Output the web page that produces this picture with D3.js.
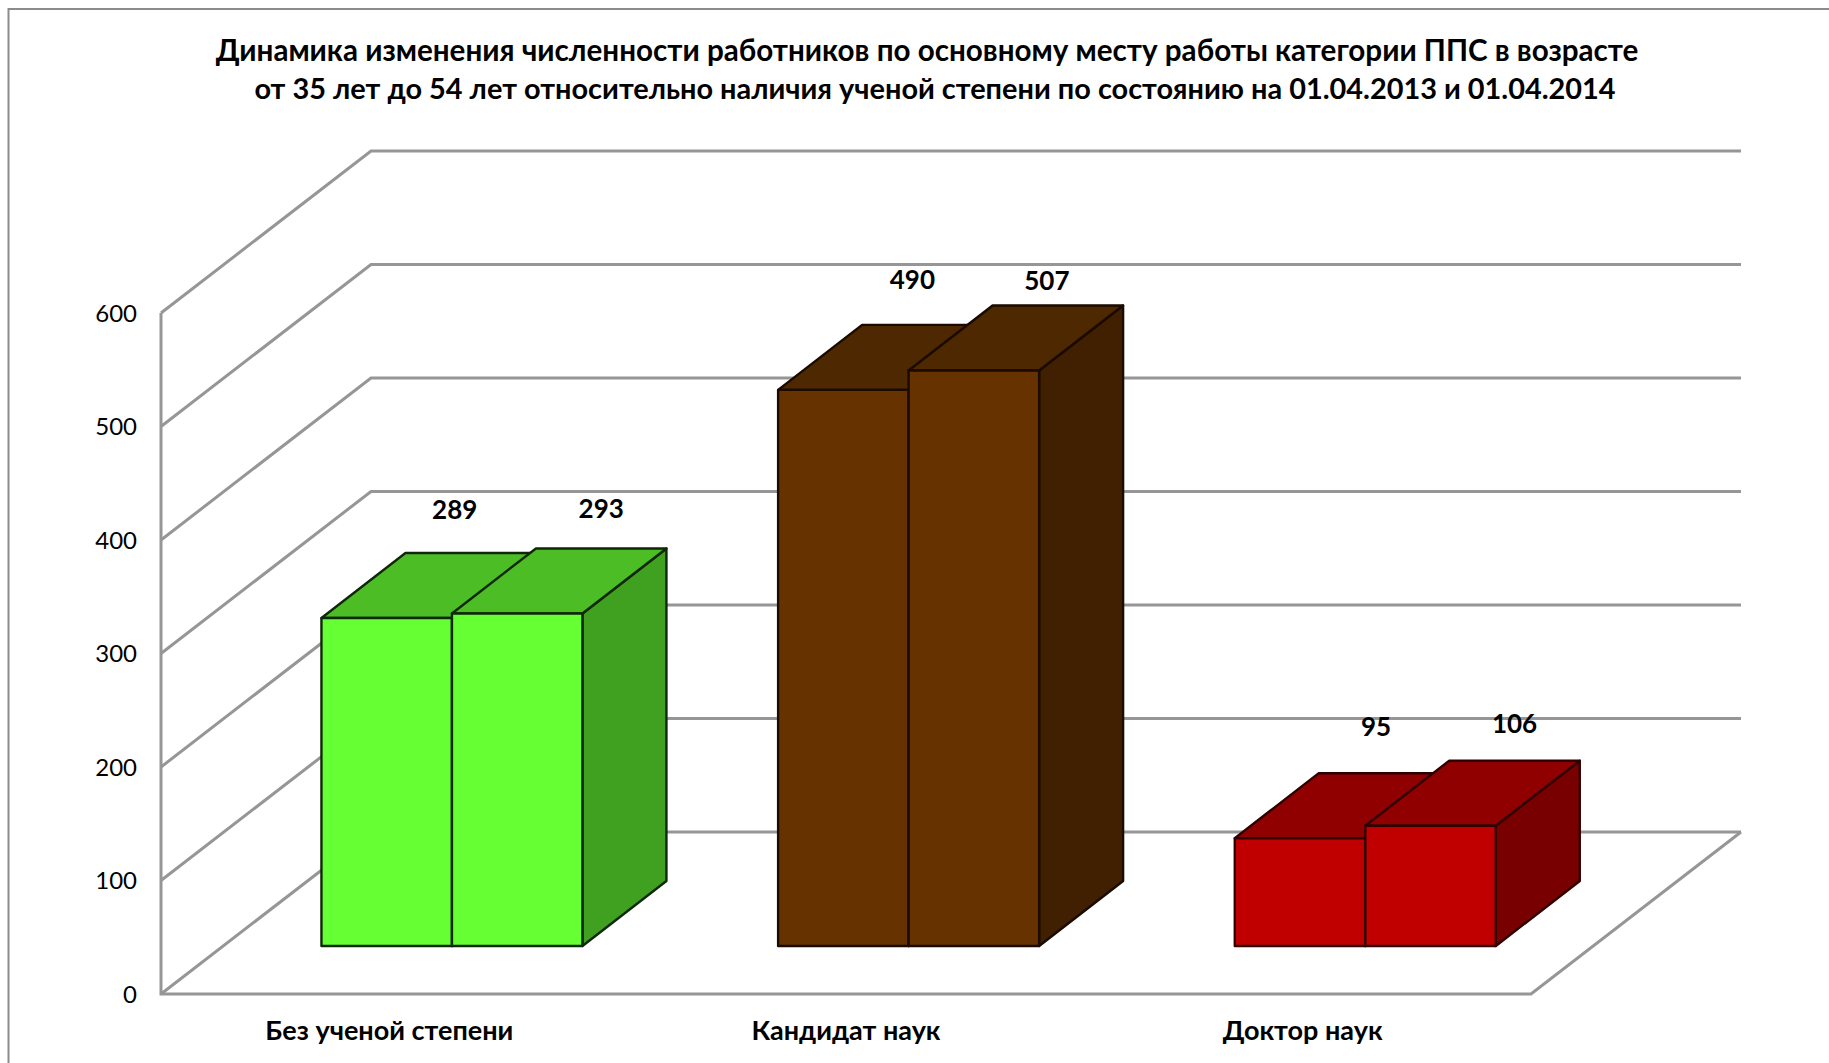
<!DOCTYPE html>
<html><head><meta charset="utf-8">
<script src="https://cdn.jsdelivr.net/npm/d3@7"></script>
<style>html,body{margin:0;padding:0;background:#fff;overflow:hidden}svg{display:block}
text{font-family:Lato,"Open Sans","Noto Sans",sans-serif;fill:#000}</style></head>
<body><script>
const categories = ["Без ученой степени","Кандидат наук","Доктор наук"];
const series = ["01.04.2013","01.04.2014"];
const values2013 = [289,490,95];
const values2014 = [293,507,106];
const yTicks = [0,100,200,300,400,500,600];
const titleLines = ["Динамика изменения численности работников по основному месту работы категории ППС в возрасте",
 "от 35 лет до 54 лет относительно наличия ученой степени по состоянию на 01.04.2013 и 01.04.2014"];
const frontColors = ["#66FF33","#663300","#C00000"];
const topColors = ["#4DBD26","#4D2800","#900000"];
const sideColors = ["#40A01F","#402000","#780000"];
const edgeColors = ["#10280A","#1A0A00","#300000"];
// manual label nudges of the original chart (px from bar's front-top-centre)
const labelDx = [[68,84],[69,73],[76,84]];
const labelDy = [[-108,-104],[-110,-90],[-111,-102]];

const W=1829,H=1063;
const svg=d3.select("body").append("svg").attr("width",W).attr("height",H);
// chart frame: only the left and top edges are inside the picture
svg.append("path").attr("d",d3.line()([[8.5,H],[8.5,9],[W,9]])).attr("fill","none")
  .attr("stroke","#8c8c8c").attr("stroke-width",2);

const xL=161,xR=1531,yB=994,yT=313;
const depthX=210,depthY=-162;
const y=d3.scaleLinear().domain([0,600]).range([yB,yT]);
const xAxisScale=d3.scaleBand().domain(categories).range([xL,xR]);
const grid="#969696";

// walls
const g=svg.append("g").attr("fill","none").attr("stroke",grid).attr("stroke-width",3).attr("stroke-linejoin","miter");
g.selectAll("path.grid").data(yTicks).join("path").attr("class","grid")
 .attr("d",d=>d3.line()([[xL,y(d)],[xL+depthX,y(d)+depthY],[xR+depthX,y(d)+depthY]]));
g.append("path").attr("d",d3.line()([[xL,y(600)],[xL,y(0)],[xR,y(0)],[xR+depthX,y(0)+depthY]]));

// bars
const floorFrac=48/161;
const groupX=d3.scaleBand().domain(categories).range([xL,xR]).paddingInner(0.4285).paddingOuter(0.21425);
const subX=d3.scaleBand().domain(series).range([0,groupX.bandwidth()]);
const floorY=yB-48;
const bx=84,by=-65;
const rows=categories.map((c,i)=>[values2013[i],values2014[i]].map((v,j)=>({c,i,j,v,s:series[j]}))).flat();
const line=d3.line();
const shiftX=depthX*floorFrac;
const bars=svg.selectAll("g.bar").data(rows).join("g").attr("class","bar")
 .attr("stroke",d=>edgeColors[d.i]).attr("stroke-width",2.4).attr("stroke-linejoin","round");
function geo(d){const x0=groupX(d.c)+subX(d.s)+shiftX,x1=x0+subX.bandwidth(),yb=floorY,yt=floorY-(yB-y(d.v));return{x0,x1,yb,yt};}
bars.append("path").attr("fill",d=>sideColors[d.i]).attr("d",d=>{const q=geo(d);return line([[q.x1,q.yb],[q.x1+bx,q.yb+by],[q.x1+bx,q.yt+by],[q.x1,q.yt]])+"Z";});
bars.append("path").attr("fill",d=>topColors[d.i]).attr("d",d=>{const q=geo(d);return line([[q.x0,q.yt],[q.x0+bx,q.yt+by],[q.x1+bx,q.yt+by],[q.x1,q.yt]])+"Z";});
bars.append("rect").attr("fill",d=>frontColors[d.i]).attr("x",d=>geo(d).x0).attr("y",d=>geo(d).yt)
 .attr("width",subX.bandwidth()).attr("height",d=>geo(d).yb-geo(d).yt);

// labels
svg.selectAll("text.val").data(rows).join("text").attr("class","val")
 .attr("x",d=>{const q=geo(d);return (q.x0+q.x1)/2+labelDx[d.i][d.j];})
 .attr("y",d=>geo(d).yt+labelDy[d.i][d.j]-1).attr("text-anchor","middle").attr("dominant-baseline","central")
 .attr("font-size",26).attr("font-weight",700).text(d=>d.v);

// axes
const ay=svg.append("g").attr("transform",`translate(${xL-24},0)`).call(d3.axisLeft(y).tickValues(yTicks).tickSize(0).tickPadding(0));
ay.select(".domain").remove();
ay.selectAll("text").attr("font-size",24).attr("dy","0.34em");
const ax=svg.append("g").attr("transform",`translate(0,1031)`).call(d3.axisBottom(xAxisScale).tickSize(0).tickPadding(0));
ax.select(".domain").remove();
ax.selectAll("text").attr("font-size",27).attr("font-weight",700).attr("dy","0.34em");

// title
svg.selectAll("text.title").data(titleLines).join("text").attr("class","title")
 .attr("x",(d,i)=>i?935:927).attr("y",(d,i)=>49+i*38.5).attr("text-anchor","middle").attr("dominant-baseline","central")
 .attr("font-size",(d,i)=>i?28.9:29.6).attr("font-weight",700).text(d=>d);
</script></body></html>
